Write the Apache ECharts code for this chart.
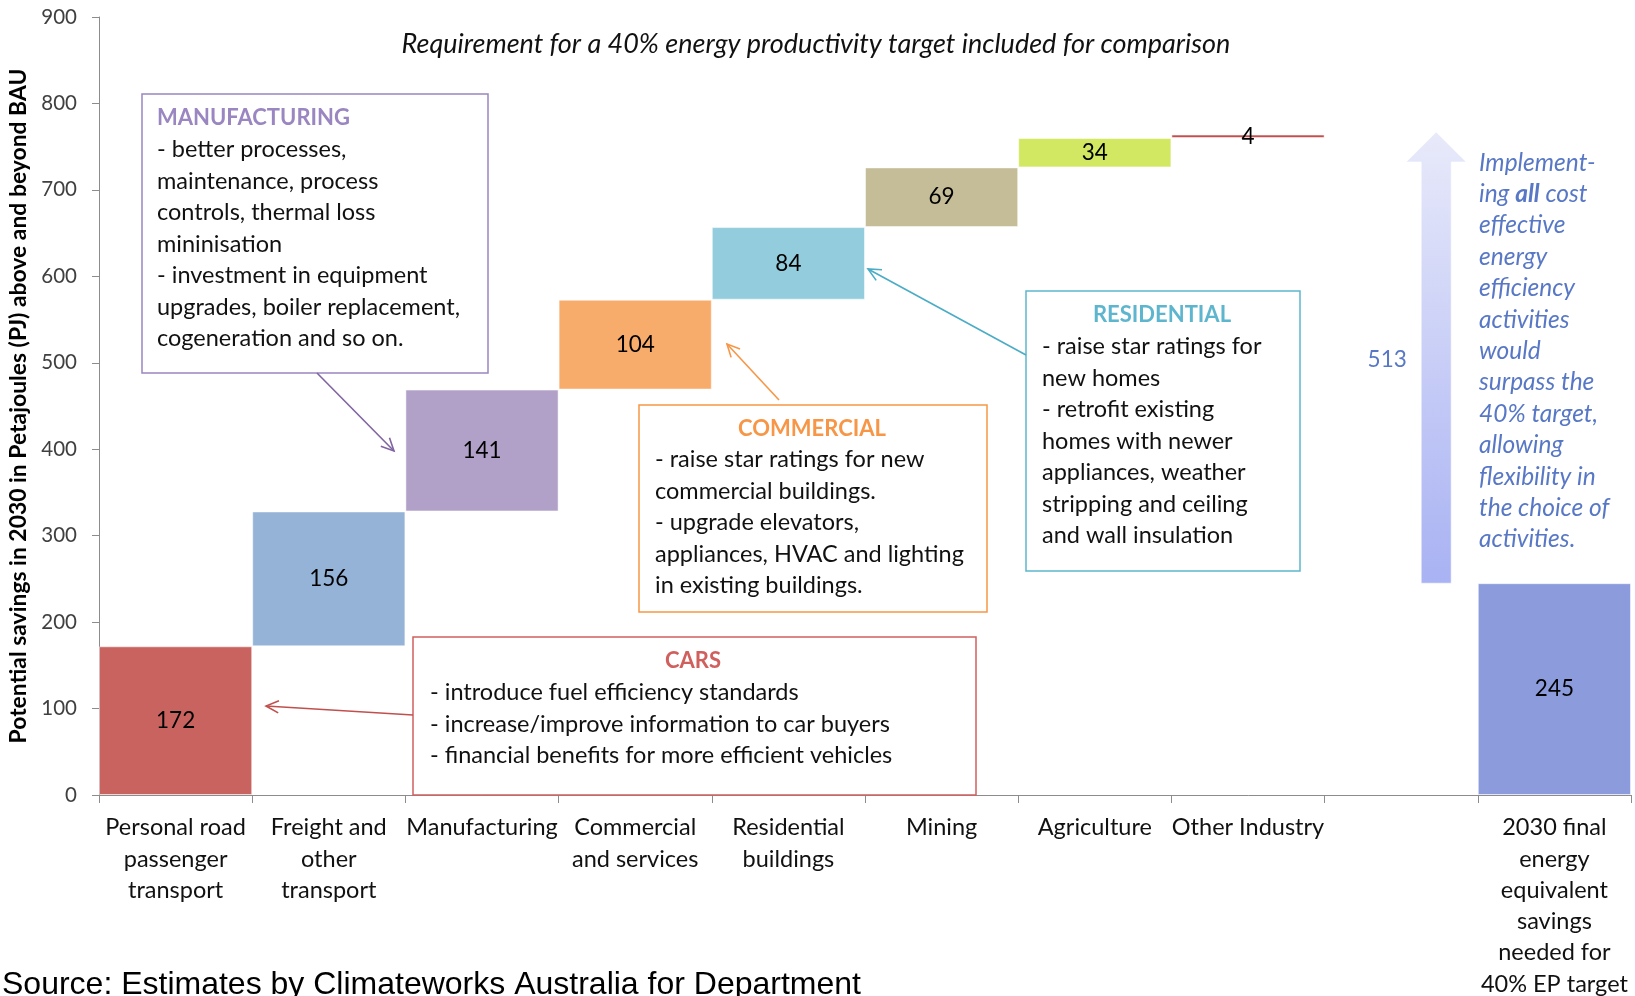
<!DOCTYPE html>
<html><head><meta charset="utf-8">
<script src="https://cdn.jsdelivr.net/npm/echarts@6/dist/echarts.min.js"></script>
<style>html,body{margin:0;padding:0;background:#fff;}#c{width:1635px;height:996px;}</style>
</head><body><div id="c"></div>
<script>
// ---- data ----
const categories = [
  'Personal road\npassenger\ntransport',
  'Freight and\nother\ntransport',
  'Manufacturing',
  'Commercial\nand services',
  'Residential\nbuildings',
  'Mining',
  'Agriculture',
  'Other Industry',
  '',
  '2030 final\nenergy\nequivalent\nsavings\nneeded for\n40% EP target'
];
const savings = [172, 156, 141, 104, 84, 69, 34, 4, null, 245];
const barColors = ['#C86360', '#95B3D7', '#B1A0C7', '#F8AC6B', '#93CDDD', '#C4BD97', '#D3E862', '#C0504D', null, '#8B9BDC'];
const isTotal = [false, false, false, false, false, false, false, false, false, true];
const yMin = 0, yMax = 900, yInterval = 100;
const arrowFrom = 245, arrowTo = 767, arrowLabel = '513';

// waterfall bases from the sector values
const bases = [];
let run = 0;
savings.forEach((v, i) => {
  if (v == null) { bases.push(null); return; }
  if (isTotal[i]) { bases.push(0); return; }
  bases.push(run); run += v;
});

const FONT = 'Lato, "Noto Sans", sans-serif';
const BODY = 23.5;
const chart = echarts.init(document.getElementById('c'), null, {renderer: 'canvas'});

chart.setOption({
  animation: false,
  backgroundColor: '#fff',
  grid: {left: 99, right: 4, top: 17, bottom: 201, containLabel: false, outerBoundsMode: 'none'},
  xAxis: {
    type: 'category', data: categories,
    axisLine: {show: true, lineStyle: {color: '#8C8C8C', width: 1}},
    axisTick: {show: true, length: 8, lineStyle: {color: '#8C8C8C'}},
    axisLabel: {interval: 0, fontFamily: FONT, fontSize: BODY, lineHeight: 31.3, color: '#111', margin: 17}
  },
  yAxis: {
    type: 'value', min: yMin, max: yMax, interval: yInterval,
    name: 'Potential savings in 2030 in Petajoules (PJ) above and beyond BAU',
    nameLocation: 'middle', nameRotate: 90, nameGap: 66,
    nameTextStyle: {fontFamily: FONT, fontWeight: 'bold', fontSize: 22.9, color: '#000'},
    axisLine: {show: true, lineStyle: {color: '#8C8C8C', width: 1}},
    axisTick: {show: true, length: 7, lineStyle: {color: '#8C8C8C'}},
    splitLine: {show: false},
    axisLabel: {fontFamily: FONT, fontSize: 20.5, color: '#404040', margin: 22}
  },
  series: [
    {type: 'bar', stack: 'w', silent: true, barCategoryGap: '0%',
     itemStyle: {color: 'rgba(0,0,0,0)'}, data: bases},
    {type: 'bar', stack: 'w', barCategoryGap: '0%',
     data: savings.map((v, i) => v == null ? null : {value: v, itemStyle: {color: barColors[i], borderColor: 'rgba(255,255,255,0.5)', borderWidth: 1}}),
     label: {show: true, position: 'inside', fontFamily: FONT, fontSize: 22.5, color: '#000'}}
  ]
});

// ---- annotations ----
function arrowLine(x1, y1, x2, y2, color) {
  const a = Math.atan2(y2 - y1, x2 - x1), len = 14, ang = 0.45;
  return [
    {type: 'line', shape: {x1, y1, x2, y2}, style: {stroke: color, lineWidth: 1.6}, z: 10},
    {type: 'polyline', shape: {points: [
      [x2 - len * Math.cos(a - ang), y2 - len * Math.sin(a - ang)], [x2, y2],
      [x2 - len * Math.cos(a + ang), y2 - len * Math.sin(a + ang)]]},
     style: {stroke: color, lineWidth: 1.6, fill: null}, z: 10}
  ];
}
function box(x, y, w, h, color, title, titleX, titleCy, titleAlign, body, bodyX, bodyTop) {
  return [
    {type: 'rect', shape: {x, y, width: w, height: h}, style: {fill: '#fff', stroke: color, lineWidth: 1.5}, z: 5},
    {type: 'text', x: titleX, y: titleCy, style: {text: title, fill: color, font: 'bold 22px ' + FONT, align: titleAlign, verticalAlign: 'middle'}, z: 6},
    {type: 'text', x: bodyX, y: bodyTop, style: {text: body, fill: '#111', font: BODY + 'px ' + FONT, lineHeight: 31.5, align: 'left', verticalAlign: 'top'}, z: 6}
  ];
}

const catIdx = categories.length - 2;
const cxCat = chart.convertToPixel({xAxisIndex: 0}, catIdx);
const ax = cxCat + 35;
const yFromPx = chart.convertToPixel({yAxisIndex: 0}, arrowFrom);
const yToPx = chart.convertToPixel({yAxisIndex: 0}, arrowTo);
const NOTE = '#5878C6';

const graphics = [].concat(
  box(142, 94, 346, 279, '#9A86C0', 'MANUFACTURING', 157, 118, 'left',
    '- better processes,\nmaintenance, process\ncontrols, thermal loss\nmininisation\n- investment in equipment\nupgrades, boiler replacement,\ncogeneration and so on.', 157, 134),
  box(413, 637, 563, 158, '#D0605D', 'CARS', 693, 661, 'center',
    '- introduce fuel efficiency standards\n- increase/improve information to car buyers\n- financial benefits for more efficient vehicles', 430, 677),
  box(639, 405, 348, 207, '#F79646', 'COMMERCIAL', 812, 429, 'center',
    '- raise star ratings for new\ncommercial buildings.\n- upgrade elevators,\nappliances, HVAC and lighting\nin existing buildings.', 655, 444),
  box(1026, 291, 274, 280, '#5DB6CE', 'RESIDENTIAL', 1162, 315, 'center',
    '- raise star ratings for\nnew homes\n- retrofit existing\nhomes with newer\nappliances, weather\nstripping and ceiling\nand wall insulation', 1042, 331),
  arrowLine(317, 373, 394, 451, '#8064A2'),
  arrowLine(413, 715, 266, 706, '#C0504D'),
  arrowLine(779, 400, 727, 344, '#F79646'),
  arrowLine(1026, 355, 868, 269, '#4BACC6'),
  [
    {type: 'polygon', z: 4, shape: {points: [
      [ax, yToPx], [ax + 30, yToPx + 30], [ax + 15, yToPx + 30], [ax + 15, yFromPx],
      [ax - 15, yFromPx], [ax - 15, yToPx + 30], [ax - 30, yToPx + 30]]},
     style: {fill: new echarts.graphic.LinearGradient(0, 0, 0, 1, [
       {offset: 0, color: '#E8EAFA'}, {offset: 1, color: '#A9B2F3'}]), stroke: 'rgba(255,255,255,0.6)', lineWidth: 1}},
    {type: 'text', x: ax - 49, y: (yFromPx + yToPx) / 2 + 2, z: 6,
     style: {text: arrowLabel, fill: NOTE, font: '22.5px ' + FONT, align: 'center', verticalAlign: 'middle'}},
    {type: 'text', x: 1479, y: 147, z: 6,
     style: {
       text: '{i|Implement-}\n{i|ing }{b|all}{i| cost}\n{i|effective}\n{i|energy}\n{i|efficiency}\n{i|activities}\n{i|would}\n{i|surpass the}\n{i|40% target,}\n{i|allowing}\n{i|flexibility in}\n{i|the choice of}\n{i|activities.}',
       align: 'left', verticalAlign: 'top', fill: NOTE,
       rich: {
         i: {fontFamily: FONT, fontStyle: 'italic', fontSize: 24.5, fill: NOTE, color: NOTE, lineHeight: 31.4},
         b: {fontFamily: FONT, fontStyle: 'italic', fontWeight: 'bold', fontSize: 24.5, fill: NOTE, color: NOTE, lineHeight: 31.4}
       }
     }},
    {type: 'text', x: 816, y: 44, z: 6,
     style: {text: 'Requirement for a 40% energy productivity target included for comparison',
       fill: '#111', font: 'italic 27px ' + FONT, align: 'center', verticalAlign: 'middle'}},
    {type: 'text', x: 2, y: 985, z: 6,
     style: {text: 'Source: Estimates by Climateworks Australia for Department',
       fill: '#000', font: '32px "Liberation Sans", Arial, sans-serif', align: 'left', verticalAlign: 'middle'}}
  ]
);

chart.setOption({graphic: {elements: graphics}});
</script>
</body></html>
